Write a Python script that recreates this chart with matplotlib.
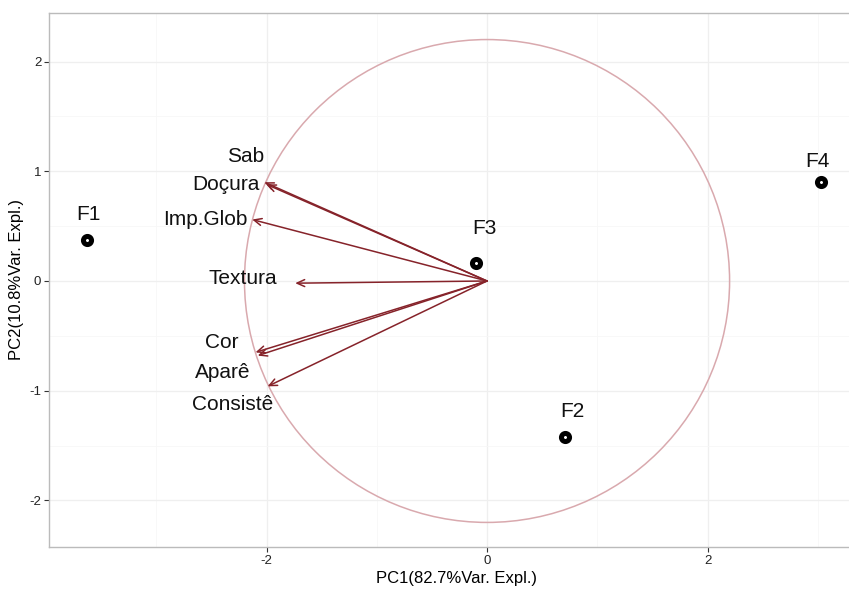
import numpy as np
import matplotlib.pyplot as plt
from matplotlib.patches import Circle

plt.rcParams['font.family'] = ['Liberation Sans', 'DejaVu Sans']
plt.rcParams['axes.unicode_minus'] = False

# sample scores
samples = ['F1', 'F2', 'F3', 'F4']
pc1_scores = [-3.63, 0.71, -0.10, 3.03]
pc2_scores = [0.37, -1.42, 0.16, 0.90]

# variable loadings (arrow tips)
variables = ['Sab', 'Doçura', 'Imp.Glob', 'Textura', 'Cor', 'Aparê', 'Consistê']
pc1_load = [-2.02, -2.00, -2.13, -1.74, -2.10, -2.08, -1.99]
pc2_load = [0.90, 0.88, 0.56, -0.02, -0.65, -0.68, -0.96]

# where the variable names sit (right edge, baseline)
label_x = [-2.02, -2.06, -2.17, -1.90, -2.25, -2.15, -1.94]
label_y = [1.08, 0.83, 0.51, -0.03, -0.61, -0.88, -1.18]

# sample label offsets in points (dx, dy above the point)
sample_offsets = [(1, 15), (5, 14), (6, 21), (-3, 11)]

circle_r = 2.2

fig = plt.figure(figsize=(8.49, 5.89), dpi=100)
ax = fig.add_axes([49 / 849, 1 - 547 / 589, 1 - 49 / 849, (547 - 13) / 589])

ax.set_xlim(-3.973, 3.283)
ax.set_ylim(-2.424, 2.442)

# grid like theme_bw
ax.set_xticks([-2, 0, 2])
ax.set_yticks([-2, -1, 0, 1, 2])
ax.set_xticks([-3, -1, 1, 3], minor=True)
ax.set_yticks([-1.5, -0.5, 0.5, 1.5], minor=True)
ax.grid(which='major', color='#EFEFEF', lw=0.9)
ax.grid(which='minor', color='#F7F7F7', lw=0.6)
ax.set_axisbelow(True)
ax.tick_params(which='minor', length=0)
ax.tick_params(which='major', direction='out', length=3.5, width=0.8,
               color='#333333', labelsize=9.5, labelcolor='#222222', pad=2)

for side in ['left', 'bottom', 'top']:
    ax.spines[side].set_color('#BBBBBB')
    ax.spines[side].set_linewidth(1.0)
ax.spines['right'].set_visible(False)

# correlation circle
ax.add_patch(Circle((0, 0), circle_r, fill=False, ec='#D9A9AE', lw=1.1))

# arrows
for vx, vy in zip(pc1_load, pc2_load):
    ax.annotate('', xy=(vx, vy), xytext=(0, 0),
                arrowprops=dict(arrowstyle='->,head_length=0.55,head_width=0.25',
                                color='#86232A', lw=1.1, shrinkA=0, shrinkB=0))

for name, lx, ly in zip(variables, label_x, label_y):
    ax.text(lx, ly, name, ha='right', va='baseline', fontsize=15, color='#111111')

# samples
ax.scatter(pc1_scores, pc2_scores, s=34, facecolor='white', edgecolor='black',
           linewidths=3.6, zorder=5)
for name, sx, sy, off in zip(samples, pc1_scores, pc2_scores, sample_offsets):
    ax.annotate(name, (sx, sy), xytext=off, textcoords='offset points',
                ha='center', va='baseline', fontsize=15, color='#111111')

ax.set_xlabel('PC1(82.7%Var. Expl.)', fontsize=12, labelpad=1)
ax.set_ylabel('PC2(10.8%Var. Expl.)', fontsize=12, labelpad=4)
ax.xaxis.set_label_coords(0.51, -0.045)

fig.savefig('out.png', dpi=100)
